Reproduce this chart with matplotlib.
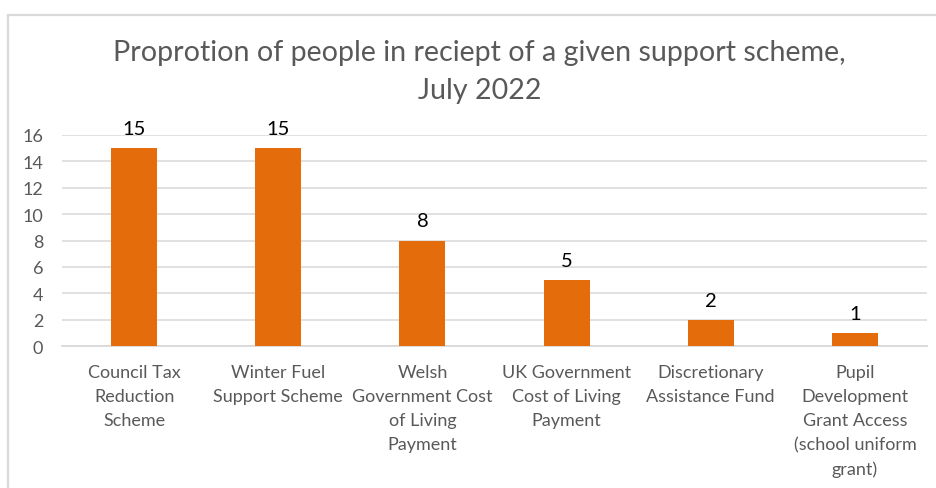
import matplotlib.pyplot as plt
from matplotlib.patches import Rectangle

plt.rcParams['font.family'] = ['Lato', 'DejaVu Sans']

schemes = [
    'Council Tax\nReduction\nScheme',
    'Winter Fuel\nSupport Scheme',
    'Welsh\nGovernment Cost\nof Living\nPayment',
    'UK Government\nCost of Living\nPayment',
    'Discretionary\nAssistance Fund',
    'Pupil\nDevelopment\nGrant Access\n(school uniform\ngrant)',
]
percent = [15, 15, 8, 5, 2, 1]
y_ticks = [0, 2, 4, 6, 8, 10, 12, 14, 16]

W, H = 937, 489
fig = plt.figure(figsize=(W / 100, H / 100), dpi=100)

# light chart frame, clipped at the right and bottom edges
fig.patches.append(Rectangle((8 / W, -0.1), 1.2, 1 - 16 / H + 0.1,
                             transform=fig.transFigure, fill=False,
                             edgecolor='#d9d9d9', linewidth=1.6))

ax = fig.add_axes([62 / W, 1 - 347 / H, (927 - 62) / W, (347 - 136) / H])
x = list(range(len(schemes)))
bars = ax.bar(x, percent, width=0.32, color='#e46c0a', zorder=3)
ax.bar_label(bars, labels=[str(v) for v in percent], padding=8,
             fontsize=14.5, color='#000000')

ax.set_xlim(-0.5, len(schemes) - 0.5)
ax.set_ylim(0, 16)
ax.set_yticks(y_ticks)
ax.yaxis.grid(True, color='#d9d9d9', linewidth=1.1, zorder=0)
ax.set_xticks(x)
ax.set_xticklabels(schemes, fontsize=13, color='#595959', linespacing=1.62)
ax.tick_params(axis='x', length=0, pad=13)
ax.tick_params(axis='y', length=0, pad=13.5, labelsize=13, labelcolor='#595959')
for side in ['top', 'right', 'left']:
    ax.spines[side].set_visible(False)
ax.spines['bottom'].set_color('#d9d9d9')
ax.spines['bottom'].set_linewidth(1.3)

fig.text(0.512, 1 - 72 / H,
         'Proprotion of people in reciept of a given support scheme,\nJuly 2022',
         ha='center', va='center', fontsize=20.6, color='#595959', linespacing=1.6)

fig.savefig('out.png', dpi=100)
